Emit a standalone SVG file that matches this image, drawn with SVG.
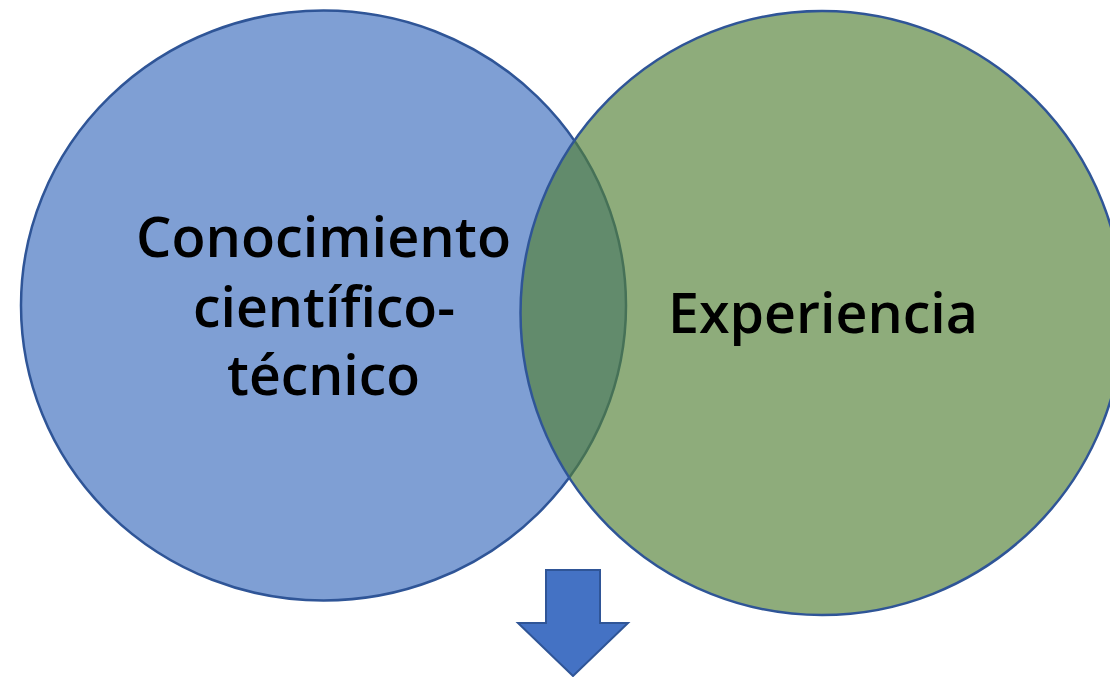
<svg xmlns="http://www.w3.org/2000/svg" width="1110" height="677" viewBox="0 0 1110 677">
<style>
.lbl{font-family:"Open Sans",Lato,"Liberation Sans",sans-serif;font-weight:600;font-size:56px;fill:#000}
.edge{stroke:#2F5597;stroke-width:2.5}
</style>
<rect width="1110" height="677" fill="#fff"/>
<g id="node-conocimiento">
<ellipse cx="323.5" cy="305.5" rx="302.5" ry="295" fill="#7F9FD4" class="edge"/>
<text class="lbl" x="136" y="257" textLength="375" lengthAdjust="spacingAndGlyphs">Conocimiento</text>
<text class="lbl" x="193" y="327" textLength="262" lengthAdjust="spacingAndGlyphs">científico-</text>
<text class="lbl" x="227" y="395" textLength="193" lengthAdjust="spacingAndGlyphs">técnico</text>
</g>
<g id="node-experiencia">
<ellipse cx="822" cy="313" rx="301.5" ry="302" fill="#538136" fill-opacity="0.656" class="edge"/>
<text class="lbl" x="668" y="333" textLength="310" lengthAdjust="spacingAndGlyphs">Experiencia</text>
</g>
<g id="connectors">
<polygon id="arrow-down" points="546,570 600,570 600,623 628,623 573,676 518,623 546,623" fill="#4472C4" stroke="#2F5597" stroke-width="2" stroke-linejoin="miter"/>
</g>
</svg>
